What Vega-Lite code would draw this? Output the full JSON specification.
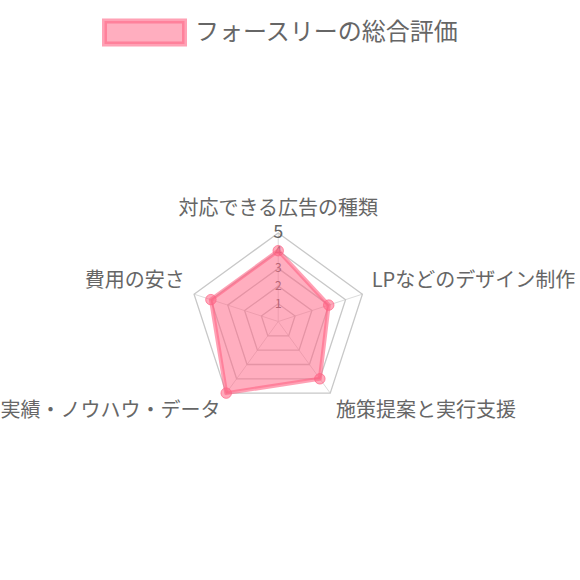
{
  "$schema": "https://vega.github.io/schema/vega-lite/v6.json",
  "width": 580,
  "height": 580,
  "padding": 0,
  "autosize": {"type": "none"},
  "background": "white",
  "config": {"view": {"stroke": null}, "font": "Noto Sans CJK JP"},
  "datasets": {
    "scores": [
      {"axis": "対応できる広告の種類", "i": 0, "value": 4, "series": "フォースリーの総合評価"},
      {"axis": "LPなどのデザイン制作", "i": 1, "value": 3, "series": "フォースリーの総合評価"},
      {"axis": "施策提案と実行支援", "i": 2, "value": 4, "series": "フォースリーの総合評価"},
      {"axis": "実績・ノウハウ・データ", "i": 3, "value": 5, "series": "フォースリーの総合評価"},
      {"axis": "費用の安さ", "i": 4, "value": 4, "series": "フォースリーの総合評価"}
    ],
    "grid": [
      {"level": 1, "i": 0}, {"level": 1, "i": 1}, {"level": 1, "i": 2}, {"level": 1, "i": 3}, {"level": 1, "i": 4},
      {"level": 2, "i": 0}, {"level": 2, "i": 1}, {"level": 2, "i": 2}, {"level": 2, "i": 3}, {"level": 2, "i": 4},
      {"level": 3, "i": 0}, {"level": 3, "i": 1}, {"level": 3, "i": 2}, {"level": 3, "i": 3}, {"level": 3, "i": 4},
      {"level": 4, "i": 0}, {"level": 4, "i": 1}, {"level": 4, "i": 2}, {"level": 4, "i": 3}, {"level": 4, "i": 4},
      {"level": 5, "i": 0}, {"level": 5, "i": 1}, {"level": 5, "i": 2}, {"level": 5, "i": 3}, {"level": 5, "i": 4}
    ],
    "ticks": [
      {"level": 1}, {"level": 2}, {"level": 3}, {"level": 4}, {"level": 5}
    ]
  },
  "layer": [
    {
      "data": {"name": "scores"},
      "transform": [
        {"calculate": "0", "as": "cx"},
        {"calculate": "0", "as": "cy"},
        {"calculate": "5 * sin(datum.i * 2 * PI / 5)", "as": "ex"},
        {"calculate": "5 * cos(datum.i * 2 * PI / 5)", "as": "ey"}
      ],
      "mark": {"type": "rule", "stroke": "#dcdcdc", "strokeWidth": 1},
      "encoding": {
        "x": {"field": "cx", "type": "quantitative", "scale": {"domain": [-15.72, 17.05], "nice": false, "zero": false}, "axis": null},
        "y": {"field": "cy", "type": "quantitative", "scale": {"domain": [-14.6, 18.16], "nice": false, "zero": false}, "axis": null},
        "x2": {"field": "ex"},
        "y2": {"field": "ey"}
      }
    },
    {
      "data": {"name": "grid"},
      "transform": [
        {"calculate": "datum.level * sin(datum.i * 2 * PI / 5)", "as": "gx"},
        {"calculate": "datum.level * cos(datum.i * 2 * PI / 5)", "as": "gy"}
      ],
      "mark": {"type": "line", "interpolate": "linear-closed", "stroke": "#c8c8c8", "strokeWidth": 1.3},
      "encoding": {
        "x": {"field": "gx", "type": "quantitative", "scale": {"domain": [-15.72, 17.05], "nice": false, "zero": false}, "axis": null},
        "y": {"field": "gy", "type": "quantitative", "scale": {"domain": [-14.6, 18.16], "nice": false, "zero": false}, "axis": null},
        "detail": {"field": "level", "type": "nominal"},
        "order": {"field": "i", "type": "quantitative"}
      }
    },
    {
      "data": {"name": "ticks"},
      "transform": [
        {"calculate": "0", "as": "tx"}
      ],
      "mark": {"type": "text", "color": "#666666", "align": "center", "baseline": "middle", "font": "Noto Sans CJK JP"},
      "encoding": {
        "x": {"field": "tx", "type": "quantitative", "scale": {"domain": [-15.72, 17.05], "nice": false, "zero": false}, "axis": null},
        "y": {"field": "level", "type": "quantitative", "scale": {"domain": [-14.6, 18.16], "nice": false, "zero": false}, "axis": null},
        "text": {"field": "level", "type": "quantitative"},
        "size": {"condition": {"test": "datum.level == 5", "value": 18}, "value": 12}
      }
    },
    {
      "data": {"name": "scores"},
      "transform": [
        {"calculate": "datum.value * sin(datum.i * 2 * PI / 5)", "as": "px"},
        {"calculate": "datum.value * cos(datum.i * 2 * PI / 5)", "as": "py"}
      ],
      "mark": {"type": "line", "interpolate": "linear-closed", "fill": "rgba(255,99,132,0.52)", "strokeWidth": 4, "strokeJoin": "round"},
      "encoding": {
        "x": {"field": "px", "type": "quantitative", "scale": {"domain": [-15.72, 17.05], "nice": false, "zero": false}, "axis": null},
        "y": {"field": "py", "type": "quantitative", "scale": {"domain": [-14.6, 18.16], "nice": false, "zero": false}, "axis": null},
        "order": {"field": "i", "type": "quantitative"},
        "color": {
          "field": "series",
          "type": "nominal",
          "scale": {"range": ["rgba(255,99,132,0.6)"]},
          "legend": {
            "title": null,
            "orient": "none",
            "legendX": 102,
            "legendY": -10,
            "padding": 0,
            "symbolOffset": 0,
            "symbolType": "M-1,-0.29L1,-0.29L1,0.29L-1,0.29Z",
            "symbolSize": 6400,
            "symbolStrokeWidth": 5,
            "symbolFillColor": "rgba(255,99,132,0.5)",
            "symbolStrokeColor": "rgba(255,99,132,0.6)",
            "labelFont": "Noto Sans CJK JP",
            "labelFontSize": 24,
            "labelColor": "#666666",
            "labelOffset": 8,
            "labelLimit": 400
          }
        }
      }
    },
    {
      "data": {"name": "scores"},
      "transform": [
        {"calculate": "datum.value * sin(datum.i * 2 * PI / 5)", "as": "px"},
        {"calculate": "datum.value * cos(datum.i * 2 * PI / 5)", "as": "py"}
      ],
      "mark": {"type": "point", "filled": true, "size": 110, "fill": "rgba(255,99,132,0.55)", "stroke": "rgba(255,99,132,0.7)", "strokeWidth": 1, "opacity": 1},
      "encoding": {
        "x": {"field": "px", "type": "quantitative", "scale": {"domain": [-15.72, 17.05], "nice": false, "zero": false}, "axis": null},
        "y": {"field": "py", "type": "quantitative", "scale": {"domain": [-14.6, 18.16], "nice": false, "zero": false}, "axis": null}
      }
    },
    {
      "data": {"name": "scores"},
      "transform": [
        {"filter": "datum.i == 0"},
        {"calculate": "5.55 * sin(datum.i * 2 * PI / 5)", "as": "lx"},
        {"calculate": "5.55 * cos(datum.i * 2 * PI / 5) + 0.8", "as": "ly"}
      ],
      "mark": {"type": "text", "align": "center", "baseline": "middle", "fontSize": 20, "color": "#666666", "font": "Noto Sans CJK JP"},
      "encoding": {
        "x": {"field": "lx", "type": "quantitative", "scale": {"domain": [-15.72, 17.05], "nice": false, "zero": false}, "axis": null},
        "y": {"field": "ly", "type": "quantitative", "scale": {"domain": [-14.6, 18.16], "nice": false, "zero": false}, "axis": null},
        "text": {"field": "axis", "type": "nominal"}
      }
    },
    {
      "data": {"name": "scores"},
      "transform": [
        {"filter": "datum.i == 1 || datum.i == 2"},
        {"calculate": "5.55 * sin(datum.i * 2 * PI / 5)", "as": "lx"},
        {"calculate": "5.55 * cos(datum.i * 2 * PI / 5) + (cos(datum.i * 2 * PI / 5) > 0 ? 0.58 : -0.58)", "as": "ly"}
      ],
      "mark": {"type": "text", "align": "left", "baseline": "middle", "fontSize": 20, "color": "#666666", "font": "Noto Sans CJK JP"},
      "encoding": {
        "x": {"field": "lx", "type": "quantitative", "scale": {"domain": [-15.72, 17.05], "nice": false, "zero": false}, "axis": null},
        "y": {"field": "ly", "type": "quantitative", "scale": {"domain": [-14.6, 18.16], "nice": false, "zero": false}, "axis": null},
        "text": {"field": "axis", "type": "nominal"}
      }
    },
    {
      "data": {"name": "scores"},
      "transform": [
        {"filter": "datum.i == 3 || datum.i == 4"},
        {"calculate": "5.55 * sin(datum.i * 2 * PI / 5)", "as": "lx"},
        {"calculate": "5.55 * cos(datum.i * 2 * PI / 5) + (cos(datum.i * 2 * PI / 5) > 0 ? 0.58 : -0.58)", "as": "ly"}
      ],
      "mark": {"type": "text", "align": "right", "baseline": "middle", "fontSize": 20, "color": "#666666", "font": "Noto Sans CJK JP"},
      "encoding": {
        "x": {"field": "lx", "type": "quantitative", "scale": {"domain": [-15.72, 17.05], "nice": false, "zero": false}, "axis": null},
        "y": {"field": "ly", "type": "quantitative", "scale": {"domain": [-14.6, 18.16], "nice": false, "zero": false}, "axis": null},
        "text": {"field": "axis", "type": "nominal"}
      }
    }
  ]
}
